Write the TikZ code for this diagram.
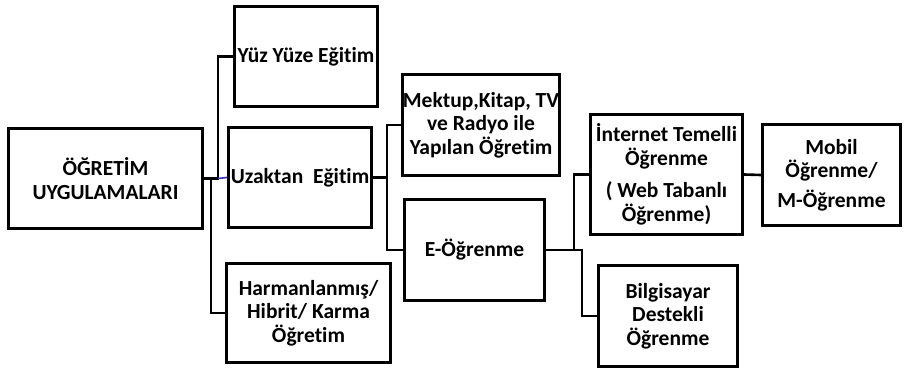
\documentclass[tikz,border=0pt]{standalone}
\usepackage{fontspec}
\setmainfont{Carlito}[Ligatures=NoCommon]
\begin{document}
\begin{tikzpicture}[x=1pt,y=-1pt,
  box/.style={draw=black,line width=3pt,align=center,inner sep=0pt,
    font=\fontsize{21.5}{23.5}\selectfont\bfseries},
  conn/.style={draw=black,line width=2.6pt},
  thin/.style={draw=blue!60!gray,line width=1.6pt}]
\useasboundingbox (0,0) rectangle (915,371);
\node[box,minimum width=194pt,minimum height=100pt] (og) at (105.5,178.5) {ÖĞRETİM\\UYGULAMALARI};
\node[box,minimum width=143pt,minimum height=100pt] (yuz) at (306,56.5) {Yüz Yüze Eğitim};
\node[box,minimum width=143pt,minimum height=100pt] (uza) at (300,177.5) {Uzaktan\ \ Eğitim};
\node[box,minimum width=164pt,minimum height=99pt] (har) at (308.5,313) {Harmanlanmış/\\Hibrit/ Karma\\Öğretim};
\node[box,minimum width=155pt,minimum height=101pt] (mek) at (481,125) {Mektup,Kitap, TV\\ve Radyo ile\\Yapılan Öğretim};
\node[box,minimum width=140pt,minimum height=101pt] (eog) at (474.5,250) {E-Öğrenme};
\node[box,minimum width=152pt,minimum height=120pt] (int) at (666.5,174.5) {İnternet Temelli\\Öğrenme\\[9pt]( Web Tabanlı\\Öğrenme)};
\node[box,minimum width=139pt,minimum height=101pt] (bil) at (668,316) {Bilgisayar\\Destekli\\Öğrenme};
\node[box,minimum width=138pt,minimum height=101pt] (mob) at (831.5,175) {Mobil\\Öğrenme/\\[6pt]M-Öğrenme};
\coordinate (j1) at (218,178.5);
\coordinate (j2) at (211,178.5);
\coordinate (j3) at (387,177.5);
\coordinate (j4) at (574,250);
\coordinate (j5) at (582,250);
\draw[conn] (og.east) -- (j1) |- (yuz.west);
\draw[conn] (j2) |- (har.west);
\draw[thin] (j1) -- (uza.west);
\draw[conn] (uza.east) -- (j3);
\draw[conn] (mek.west) -| (j3) |- (eog.west);
\draw[conn] (eog.east) -- (j4) |- (int.west);
\draw[conn] (j4) -- (j5) |- (bil.west);
\draw[conn] (int.east) -- (mob.west);
\end{tikzpicture}
\end{document}
